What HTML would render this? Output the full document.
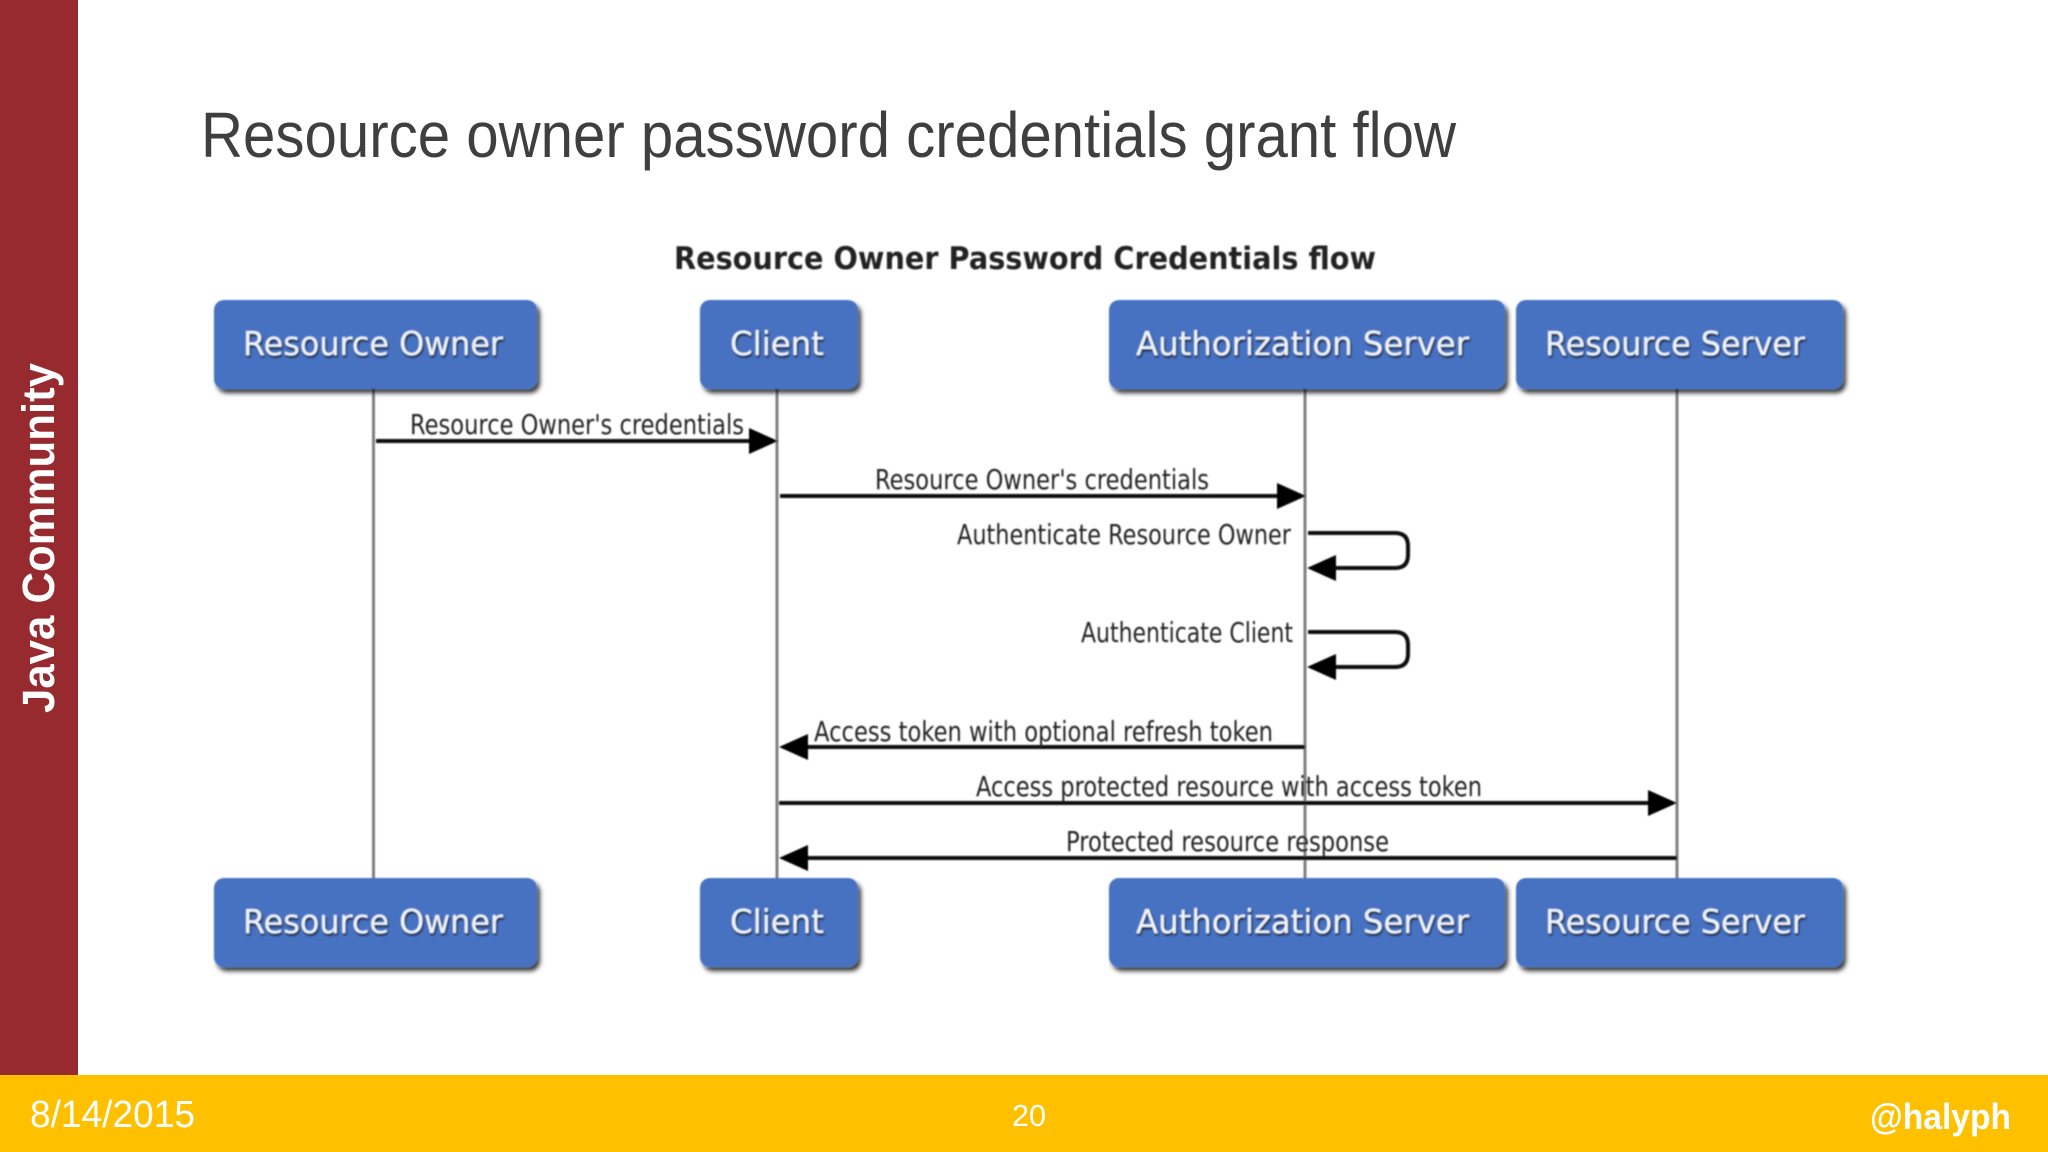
<!DOCTYPE html>
<html><head><meta charset="utf-8"><style>
html,body{margin:0;padding:0;background:#fff}
svg{display:block}
.box{fill:#4672c2}
.bt{font-family:"DejaVu Sans",sans-serif;font-size:33px;fill:#eef4ff;filter:url(#ts)}
.lb{font-family:"DejaVu Sans",sans-serif;font-size:28px;fill:#222}
.ll{stroke:#7f7f7f;stroke-width:3;fill:none}
.ar{stroke:#111;stroke-width:4;fill:none}
.ft{font-family:"Liberation Sans",sans-serif;fill:#fff}
</style></head><body>
<svg xmlns="http://www.w3.org/2000/svg" width="2048" height="1152" viewBox="0 0 2048 1152">
<defs>
<filter id="sh" x="-10%" y="-20%" width="120%" height="140%"><feGaussianBlur in="SourceAlpha" stdDeviation="2.5"/><feOffset dx="3" dy="4"/><feComponentTransfer><feFuncA type="linear" slope="0.8"/></feComponentTransfer><feMerge><feMergeNode/><feMergeNode in="SourceGraphic"/></feMerge></filter>
<filter id="ts" x="-5%" y="-20%" width="110%" height="150%"><feGaussianBlur in="SourceAlpha" stdDeviation="1"/><feOffset dx="1" dy="2"/><feComponentTransfer><feFuncA type="linear" slope="0.8"/></feComponentTransfer><feMerge><feMergeNode/><feMergeNode in="SourceGraphic"/></feMerge></filter>
<filter id="bl"><feGaussianBlur stdDeviation="0.8"/></filter>
</defs>
<rect width="2048" height="1152" fill="#fff"/>
<rect x="0" y="0" width="78" height="1075" fill="#962a2e"/>
<rect x="0" y="1075" width="2048" height="77" fill="#ffc000"/>
<text x="201" y="157" font-family="Liberation Sans, sans-serif" font-size="64" fill="#3f3f3f" textLength="1255" lengthAdjust="spacingAndGlyphs">Resource owner password credentials grant flow</text>
<text transform="translate(54,713) rotate(-90)" class="ft" font-size="45" font-weight="bold" textLength="350" lengthAdjust="spacingAndGlyphs">Java Community</text>
<text x="30" y="1127" class="ft" font-size="38" textLength="165" lengthAdjust="spacingAndGlyphs">8/14/2015</text>
<text x="1012" y="1126" class="ft" font-size="31" textLength="34" lengthAdjust="spacingAndGlyphs">20</text>
<text x="1870" y="1129" class="ft" font-size="36" font-weight="bold" textLength="141" lengthAdjust="spacingAndGlyphs">@halyph</text>
<g filter="url(#bl)">
<text x="674" y="269" font-family="DejaVu Sans, sans-serif" font-size="31" font-weight="bold" fill="#222" textLength="702" lengthAdjust="spacingAndGlyphs">Resource Owner Password Credentials flow</text>
<line class="ll" x1="373.500" y1="385" x2="373.500" y2="880"/>
<line class="ll" x1="777" y1="385" x2="777" y2="880"/>
<line class="ll" x1="1305" y1="385" x2="1305" y2="880"/>
<line class="ll" x1="1677" y1="385" x2="1677" y2="880"/>
<g filter="url(#sh)">
<rect class="box" x="214" y="300" width="323" height="89" rx="10"/>
<rect class="box" x="700" y="300" width="158" height="89" rx="10"/>
<rect class="box" x="1109" y="300" width="396" height="89" rx="10"/>
<rect class="box" x="1516" y="300" width="327" height="89" rx="10"/>
<rect class="box" x="214" y="878" width="323" height="89" rx="10"/>
<rect class="box" x="700" y="878" width="158" height="89" rx="10"/>
<rect class="box" x="1109" y="878" width="396" height="89" rx="10"/>
<rect class="box" x="1516" y="878" width="327" height="89" rx="10"/>
</g>
<text class="bt" x="243" y="355" textLength="260" lengthAdjust="spacingAndGlyphs">Resource Owner</text>
<text class="bt" x="730" y="355" textLength="94" lengthAdjust="spacingAndGlyphs">Client</text>
<text class="bt" x="1136" y="355" textLength="333" lengthAdjust="spacingAndGlyphs">Authorization Server</text>
<text class="bt" x="1545" y="355" textLength="260" lengthAdjust="spacingAndGlyphs">Resource Server</text>
<text class="bt" x="243" y="933" textLength="260" lengthAdjust="spacingAndGlyphs">Resource Owner</text>
<text class="bt" x="730" y="933" textLength="94" lengthAdjust="spacingAndGlyphs">Client</text>
<text class="bt" x="1136" y="933" textLength="333" lengthAdjust="spacingAndGlyphs">Authorization Server</text>
<text class="bt" x="1545" y="933" textLength="260" lengthAdjust="spacingAndGlyphs">Resource Server</text>

<line class="ar" x1="376" y1="441" x2="752" y2="441"/><polygon points="749,428 778,441 749,454" fill="#000"/>
<line class="ar" x1="780" y1="496" x2="1280" y2="496"/><polygon points="1277,483 1306,496 1277,509" fill="#000"/>
<path class="ar" d="M1308,533 H1395 Q1408,533 1408,546 V555 Q1408,568 1395,568 H1330"/><polygon points="1336,555 1307,568 1336,581" fill="#000"/>
<path class="ar" d="M1308,632 H1395 Q1408,632 1408,645 V654 Q1408,667 1395,667 H1330"/><polygon points="1336,654 1307,667 1336,680" fill="#000"/>
<line class="ar" x1="1305" y1="747" x2="805" y2="747"/><polygon points="808,734 779,747 808,760" fill="#000"/>
<line class="ar" x1="779" y1="803" x2="1650" y2="803"/><polygon points="1648,790 1677,803 1648,816" fill="#000"/>
<line class="ar" x1="1677" y1="858" x2="805" y2="858"/><polygon points="808,845 779,858 808,871" fill="#000"/>

<text class="lb" x="410" y="434" textLength="334" lengthAdjust="spacingAndGlyphs">Resource Owner's credentials</text>
<text class="lb" x="875" y="489" textLength="334" lengthAdjust="spacingAndGlyphs">Resource Owner's credentials</text>
<text class="lb" x="957" y="544" textLength="334" lengthAdjust="spacingAndGlyphs">Authenticate Resource Owner</text>
<text class="lb" x="1081" y="642" textLength="212" lengthAdjust="spacingAndGlyphs">Authenticate Client</text>
<text class="lb" x="814" y="741" textLength="459" lengthAdjust="spacingAndGlyphs">Access token with optional refresh token</text>
<text class="lb" x="976" y="796" textLength="506" lengthAdjust="spacingAndGlyphs">Access protected resource with access token</text>
<text class="lb" x="1066" y="851" textLength="323" lengthAdjust="spacingAndGlyphs">Protected resource response</text>
</g>
</svg>
</body></html>
